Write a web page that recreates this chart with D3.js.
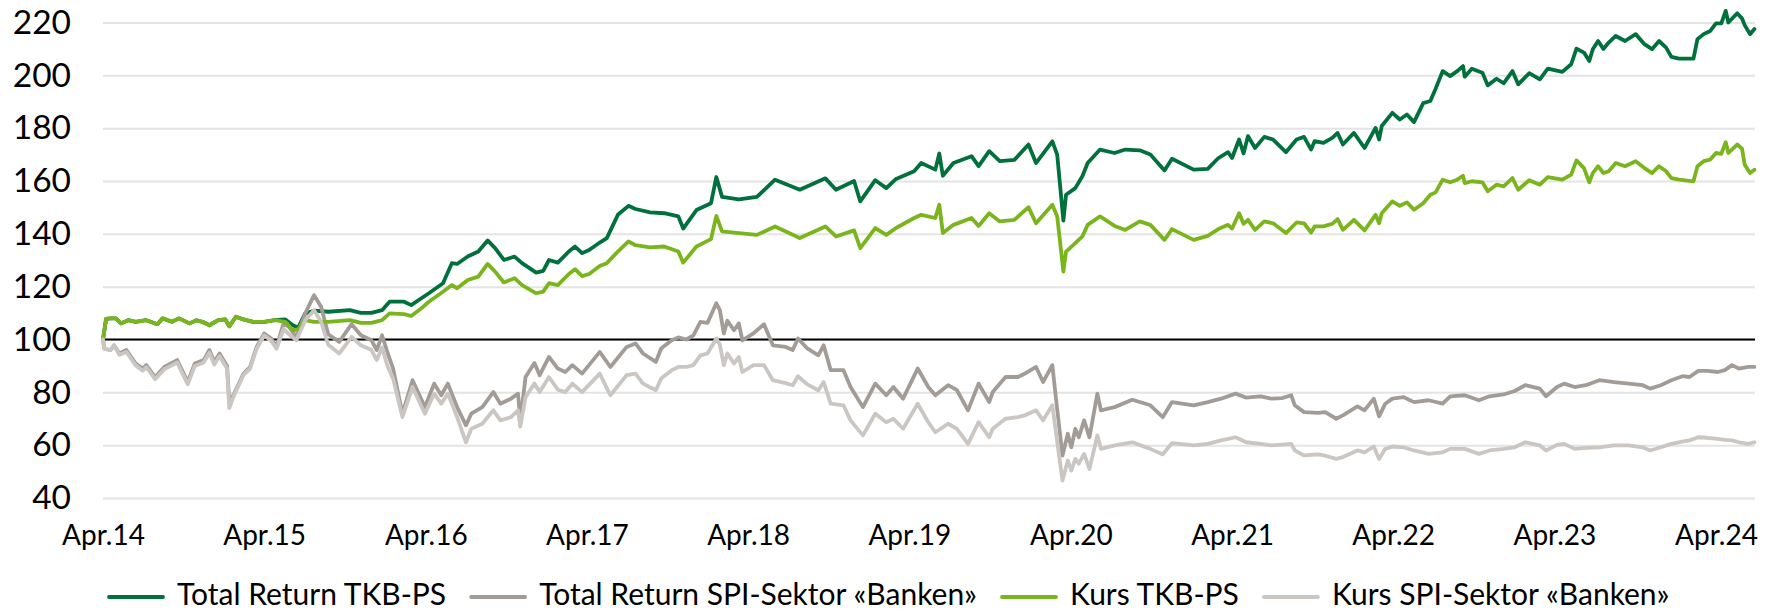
<!DOCTYPE html>
<html lang="de">
<head>
<meta charset="UTF-8">
<title>Total Return TKB-PS vs. SPI-Sektor Banken</title>
<script src="https://d3js.org/d3.v7.min.js"></script>
<style>
  body { margin: 0; background: #fff; }
  svg text { font-family: Lato, "Open Sans", sans-serif; fill: #000; }
</style>
</head>
<body>
<div id="chart"></div>
<script>
const width = 1779, height = 611;
const plotLeft = 103, plotRight = 1755;

// TKB-PS (Total Return / Kurs), indexiert auf 100
const greenDates = [
  "2014-04-01","2014-04-08","2014-04-18","2014-04-30","2014-05-12","2014-05-28","2014-06-14","2014-07-08","2014-08-02","2014-08-14",
  "2014-09-04","2014-09-20","2014-10-14","2014-10-30","2014-11-12","2014-11-28","2014-12-18","2015-01-03","2015-01-12","2015-01-27",
  "2015-02-13","2015-03-07","2015-04-01","2015-04-25","2015-05-19","2015-06-05","2015-06-17","2015-07-03","2015-07-23","2015-08-24",
  "2015-10-12","2015-11-06","2015-11-30","2015-12-24","2016-01-10","2016-02-12","2016-02-28","2016-03-22","2016-04-08","2016-05-10",
  "2016-05-30","2016-06-11","2016-07-05","2016-07-29","2016-08-19","2016-09-05","2016-09-25","2016-10-19","2016-11-05","2016-12-07",
  "2016-12-23","2017-01-05","2017-01-25","2017-02-19","2017-03-05","2017-03-21","2017-04-06","2017-04-30","2017-05-16","2017-06-10",
  "2017-07-04","2017-07-20","2017-08-22","2017-09-23","2017-10-25","2017-11-05","2017-12-05","2018-01-07","2018-01-19","2018-02-01",
  "2018-03-11","2018-04-21","2018-06-01","2018-07-27","2018-09-23","2018-10-17","2018-11-27","2018-12-11","2019-01-14","2019-02-08",
  "2019-03-02","2019-04-12","2019-04-28","2019-05-30","2019-06-08","2019-06-16","2019-07-10","2019-08-20","2019-09-05","2019-09-29",
  "2019-10-23","2019-11-25","2019-12-27","2020-01-13","2020-02-19","2020-03-01","2020-03-15","2020-03-21","2020-04-11","2020-04-27",
  "2020-05-09","2020-06-06","2020-07-09","2020-08-02","2020-09-04","2020-09-28","2020-10-30","2020-11-16","2021-01-04","2021-02-05",
  "2021-03-01","2021-03-23","2021-04-01","2021-04-17","2021-04-27","2021-05-07","2021-05-23","2021-06-13","2021-07-03","2021-08-01",
  "2021-08-25","2021-09-11","2021-09-27","2021-10-05","2021-10-25","2021-11-14","2021-11-26","2021-12-08","2022-01-02","2022-01-26",
  "2022-02-20","2022-02-28","2022-03-06","2022-03-30","2022-04-16","2022-05-02","2022-05-18","2022-06-08","2022-06-24","2022-07-06",
  "2022-07-22","2022-08-08","2022-08-24","2022-09-06","2022-09-10","2022-09-26","2022-10-20","2022-11-01","2022-11-21","2022-12-07",
  "2022-12-27","2023-01-09","2023-02-03","2023-02-27","2023-03-17","2023-04-19","2023-05-09","2023-05-21","2023-06-07","2023-06-19",
  "2023-06-27","2023-07-09","2023-07-21","2023-08-02","2023-08-18","2023-09-08","2023-10-02","2023-10-22","2023-11-08","2023-11-24",
  "2023-12-10","2023-12-22","2024-01-08","2024-02-10","2024-02-19","2024-03-04","2024-03-19","2024-04-01","2024-04-13","2024-04-23",
  "2024-04-29","2024-05-19","2024-05-30","2024-06-05","2024-06-17","2024-06-27"
];
const trTkb = [
  100,107.8,108,108,106.1,107.3,106.7,107.3,105.8,108,
  106.7,108,106.1,107.3,106.7,105.4,107.3,107.6,105,108.6,
  107.6,106.7,106.7,107.3,107.6,105.4,104.5,109.9,110.9,110.5,
  111.1,110.1,110.1,111.1,114.3,114.3,113,115.6,117.5,121.3,
  128.9,128.6,131.4,133.3,137.5,134.6,130.1,131.4,128.9,125.3,
  126,130.1,129.1,133.3,135.2,132.7,133.9,136.7,138.4,147.2,
  150.6,149.4,148.1,147.8,146.6,142,149,151.6,161.5,154,
  153,154,160.5,156.7,161,156.7,160,152.3,160.3,157.3,
  160.8,163.7,166.8,164.3,170.4,162,166.8,169.4,165.6,171.3,
  167.5,168,173.8,166.8,175,170,145,154.8,157.3,161.8,
  166.8,171.9,170.6,171.9,171.6,170,164,168.4,164.3,164.6,
  168.7,170.9,168.7,175.7,170.4,177,172.5,176.7,175.7,170.9,
  175.7,176.7,171.9,175.1,174.4,176.3,178.2,173.8,178.2,172.5,
  180.1,175.7,180.8,185.8,183.3,185.2,182.3,189.5,190.3,194.9,
  201.6,199.7,201.6,203.5,199.5,202.5,201,196.2,198.7,197,
  201.6,196.6,200.8,198.5,202.5,201.3,204.2,210.1,208.6,205.4,
  209.9,213,210,212.4,214.9,213,215.6,211.8,209.9,213,
  210.5,207,206.3,206.3,213.7,215.6,216.8,219.7,219.7,224.4,
  220,223.5,221.5,219,215.6,217.5
];
const kursTkb = [
  100,107.8,108,108,106.1,107.3,106.7,107.3,105.8,108,
  106.7,108,106.1,107.3,106.7,105.4,107.3,107.6,105,108.6,
  107.6,106.7,106.7,107.3,106.7,103.5,103.8,107.3,106.7,106.7,
  107.3,106.3,106.3,107.3,109.9,109.6,108.9,111.8,114.3,118.1,
  120.6,119.4,122.5,123.8,128.6,125.7,121.6,123.2,120.6,117.5,
  118.1,121.3,120.6,124.8,126.6,124,124.8,127.8,128.9,133.3,
  137.1,135.7,134.9,135.2,133.3,129.1,135.2,138,146.8,140.9,
  140.3,139.6,142.8,138.4,142.8,139,141.3,134.6,142.2,139.6,
  142.2,146,147.2,146,151,140.3,143.4,146,143,147.8,
  144.7,145.3,150.1,144,151,146.6,125.7,133.3,136.5,139,
  143.4,146.6,143,141.5,144.7,143.4,137.7,141.8,137.7,139.2,
  141.8,143.4,142,147.8,143.8,145.3,141.5,144.7,144,140.3,
  144.3,144,140.5,142.8,142.8,143.8,145.6,141.5,145.3,141.3,
  147.2,144,147.8,152.3,150.6,151.9,149.1,151.6,154.8,155.7,
  160.5,159.5,160.5,162,159.2,159.9,159.5,156.1,158.6,158,
  161.1,156.7,160.3,158.6,161.5,160.5,162.4,167.8,164.9,159.5,
  163,165.6,163,163.7,166.8,165.6,167.5,164.9,163,165.6,
  163.7,161.1,160.5,159.9,165.6,167.5,168.1,170.6,170.3,174.7,
  170.6,173.8,172.2,166.2,163,164.3
];

// SPI-Sektor «Banken» (Total Return / Kurs), indexiert auf 100
const grayDates = [
  "2014-04-01","2014-04-04","2014-04-18","2014-04-26","2014-05-08","2014-05-24","2014-06-14","2014-06-30","2014-07-08","2014-07-28",
  "2014-08-18","2014-09-16","2014-10-10","2014-10-26","2014-11-15","2014-11-28","2014-12-09","2014-12-21","2015-01-07","2015-01-12",
  "2015-01-23","2015-02-13","2015-02-28","2015-03-15","2015-04-01","2015-04-17","2015-04-29","2015-05-15","2015-05-27","2015-06-13",
  "2015-07-03","2015-07-23","2015-08-08","2015-08-24","2015-09-18","2015-10-16","2015-11-06","2015-11-30","2015-12-12","2015-12-24",
  "2016-01-06","2016-01-18","2016-02-08","2016-03-02","2016-03-30","2016-04-20","2016-05-06","2016-05-21","2016-06-11","2016-07-01",
  "2016-07-13","2016-08-07","2016-09-01","2016-09-17","2016-10-11","2016-10-27","2016-11-01","2016-11-13","2016-12-03","2016-12-15",
  "2017-01-05","2017-01-25","2017-02-11","2017-02-27","2017-03-21","2017-04-30","2017-05-24","2017-06-30","2017-07-20","2017-08-06",
  "2017-09-04","2017-09-16","2017-10-10","2017-10-25","2017-11-12","2017-11-28","2017-12-14","2017-12-30","2018-01-19","2018-01-27",
  "2018-02-05","2018-02-13","2018-02-28","2018-03-11","2018-03-19","2018-04-13","2018-05-07","2018-05-27","2018-06-25","2018-07-11",
  "2018-07-23","2018-08-13","2018-09-07","2018-09-19","2018-10-05","2018-11-03","2018-11-19","2018-12-17","2019-01-14","2019-02-08",
  "2019-02-24","2019-03-18","2019-04-20","2019-05-14","2019-05-30","2019-06-28","2019-07-18","2019-08-12","2019-09-05","2019-09-29",
  "2019-10-07","2019-11-05","2019-12-03","2019-12-19","2020-01-13","2020-01-29","2020-02-19","2020-02-27","2020-03-13","2020-03-25",
  "2020-04-02","2020-04-11","2020-04-19","2020-05-01","2020-05-13","2020-05-31","2020-06-08","2020-07-09","2020-08-18","2020-09-28",
  "2020-10-26","2020-11-16","2021-01-04","2021-02-05","2021-03-07","2021-04-09","2021-05-03","2021-06-05","2021-06-29","2021-07-23",
  "2021-08-13","2021-08-21","2021-09-11","2021-10-13","2021-10-29","2021-11-23","2021-12-08","2022-01-10","2022-01-26","2022-02-16",
  "2022-02-28","2022-03-14","2022-03-30","2022-04-24","2022-05-18","2022-06-20","2022-07-22","2022-08-08","2022-09-10","2022-10-12",
  "2022-11-05","2022-12-07","2023-01-01","2023-01-25","2023-02-27","2023-03-13","2023-04-07","2023-04-23","2023-05-17","2023-06-11",
  "2023-07-12","2023-08-14","2023-09-16","2023-10-18","2023-11-04","2023-11-28","2023-12-22","2024-01-16","2024-02-01","2024-02-21",
  "2024-03-12","2024-04-05","2024-04-21","2024-05-07","2024-05-23","2024-06-13","2024-06-27"
];
const trSpi = [
  100,96.5,96,97.8,94.7,96,90.9,89,90.3,85.8,
  89.6,92.2,83.9,90.9,92.2,96,91.5,94.7,90,76,
  79.5,87,89.6,97.2,102.3,100.4,97.2,106.1,104.8,101,
  109.9,116.8,112.4,102,99.1,105.8,101.6,99.7,96,101.6,
  94.7,89,71.9,84.6,74.4,83.3,78.9,83.3,74.4,67.5,
  71.9,74.4,80.1,75.7,77.6,79.5,69,85.8,91.1,86.5,
  93.4,89,87.7,90.3,87.1,95.3,89.6,97.2,98.5,94.7,
  91.5,96.6,99.7,100.8,100,101.6,106.7,106.3,113.7,111.1,
  102.3,107.1,103.5,106.1,99.7,102.3,105.8,97.8,97.2,96,
  100.4,96.6,94,97.8,88.4,88.4,82,74.4,83.3,78.9,
  82,77.6,89,82,78.9,82.7,80.8,73.2,83.3,76.3,
  80.1,85.8,85.8,87.1,89.6,83.9,90.3,78,56.1,64.3,
  59.2,66.2,63,69.4,63,79.5,73.2,74.4,77.2,75.1,
  70.6,76.3,75.1,76.3,77.6,79.5,78,78.5,77.6,77.8,
  78.9,75.1,72.5,72.2,72.5,70,71.3,74.7,73.2,77.6,
  70.9,75.7,77.6,78.2,76.3,77,75.7,78.5,78.9,77,
  78.5,79.2,80.5,82.7,81.4,78.5,82,83.3,82,82.7,
  84.6,83.9,83.3,82.7,81.4,82.7,84.6,86.1,85.8,88.1,
  88.1,87.7,88.4,90.3,89,89.6,89.6
];
const kursSpi = [
  100,96.5,96,97.8,94.2,95.3,90.2,88.2,89.5,85,
  88.8,91.3,83,90,91.3,95,90.5,93.7,89,74,
  79,86.5,89,96.5,101.5,99.5,96.5,104,102,99.7,
  107.3,111.1,106.7,98,94.7,101,97.8,96,92.2,97,
  89.6,85.2,70.6,82,71.9,79.5,75.7,79.5,70.6,61.1,
  66.2,68.1,73.2,69.4,70.6,73.2,67,78.2,83.3,80.1,
  85.8,81,80.1,83.3,80.1,87.1,78.9,86.5,87.1,83.3,
  80.8,85.2,88.4,89.6,89.6,90.3,94,94.7,100.4,98,
  90.3,94.7,90.9,93.4,87.7,90.3,90.3,84.6,83.5,82.7,
  86.1,83,80.8,83.9,75.7,75.1,69.4,63.7,71.9,68.7,
  70,66.2,75.7,68.7,64.9,68.1,66.2,60.5,68.7,63,
  66.2,70,70.6,71.3,73.2,69.4,75.1,65,46.6,54.2,
  50.4,54.8,53,56.7,51,63.7,58.6,59.9,61.1,58.6,
  56.5,60.8,59.9,60.5,61.8,63,61.1,60.5,59.9,60.2,
  60.5,58,56.1,56.5,56,54.8,55.5,58,57.3,59.5,
  54.8,58.6,59.5,59.2,58,56.7,57.3,58.6,58.6,56.7,
  58,58.6,59.2,61.1,59.9,58,60.1,60.5,58.6,59,
  59.2,59.9,59.9,59.2,58,59.2,60.5,61.3,61.8,63,
  62.8,62.4,62,61.8,61.1,60.5,61.1
];

const yTicks = [40, 60, 80, 100, 120, 140, 160, 180, 200, 220];
const xTickDates = ["2014-04-01","2015-04-01","2016-04-01","2017-04-01","2018-04-01","2019-04-01",
                    "2020-04-01","2021-04-01","2022-04-01","2023-04-01","2024-04-01"];
const xTickLabels = ["Apr.14","Apr.15","Apr.16","Apr.17","Apr.18","Apr.19",
                     "Apr.20","Apr.21","Apr.22","Apr.23","Apr.24"];
const seriesNames = ["Total Return TKB-PS", "Total Return SPI-Sektor «Banken»", "Kurs TKB-PS", "Kurs SPI-Sektor «Banken»"];
const seriesColors = ["#00703c", "#a39c96", "#7ab51d", "#cbc6c2"];

const parse = d3.timeParse("%Y-%m-%d");

const series = [
  { name: seriesNames[0], color: seriesColors[0], values: greenDates.map((d, i) => [parse(d), trTkb[i]]) },
  { name: seriesNames[1], color: seriesColors[1], values: grayDates.map((d, i) => [parse(d), trSpi[i]]) },
  { name: seriesNames[2], color: seriesColors[2], values: greenDates.map((d, i) => [parse(d), kursTkb[i]]) },
  { name: seriesNames[3], color: seriesColors[3], values: grayDates.map((d, i) => [parse(d), kursSpi[i]]) }
];

const svg = d3.select("#chart").append("svg")
  .attr("width", width)
  .attr("height", height);

const x = d3.scaleTime()
  .domain([parse("2014-04-01"), parse("2024-04-01")])
  .range([plotLeft, 1716]);

const y = d3.scaleLinear()
  .domain([40, 220])
  .range([498, 22.5]);

// y axis + gridlines
const yAxis = svg.append("g")
  .attr("transform", `translate(${plotLeft},0)`)
  .call(d3.axisLeft(y).tickValues(yTicks).tickSize(-(plotRight - plotLeft)).tickPadding(32));
yAxis.select(".domain").remove();
yAxis.selectAll(".tick line").attr("stroke", "#e4e4e4").attr("stroke-width", 2);
yAxis.selectAll(".tick text").style("font-size", "33.5px");

// x axis labels
const xAxis = svg.append("g")
  .attr("transform", "translate(0,498)")
  .call(d3.axisBottom(x)
    .tickValues(xTickDates.map(parse))
    .tickFormat((d, i) => xTickLabels[i])
    .tickSize(0)
    .tickPadding(27));
xAxis.select(".domain").remove();
xAxis.selectAll(".tick text").style("font-size", "28px");

// 100 baseline
svg.append("line")
  .attr("x1", plotLeft).attr("x2", plotRight)
  .attr("y1", y(100)).attr("y2", y(100))
  .attr("stroke", "#000")
  .attr("stroke-width", 2.2);

const line = d3.line()
  .x(d => x(d[0]))
  .y(d => y(d[1]));

svg.selectAll("path.series")
  .data(series)
  .enter()
  .append("path")
  .attr("class", "series")
  .attr("d", d => line(d.values))
  .attr("fill", "none")
  .attr("stroke", d => d.color)
  .attr("stroke-width", 3.8)
  .attr("stroke-linejoin", "round")
  .attr("stroke-linecap", "round");

// legend
const legend = svg.append("g");
let lx = 109;
series.forEach(s => {
  legend.append("line")
    .attr("x1", lx).attr("x2", lx + 54)
    .attr("y1", 597).attr("y2", 597)
    .attr("stroke", s.color)
    .attr("stroke-width", 3.8)
    .attr("stroke-linecap", "round");
  const t = legend.append("text")
    .attr("x", lx + 68)
    .attr("y", 605)
    .style("font-size", "30px")
    .text(s.name);
  lx += 68 + t.node().getComputedTextLength() + 25;
});
</script>
</body>
</html>
